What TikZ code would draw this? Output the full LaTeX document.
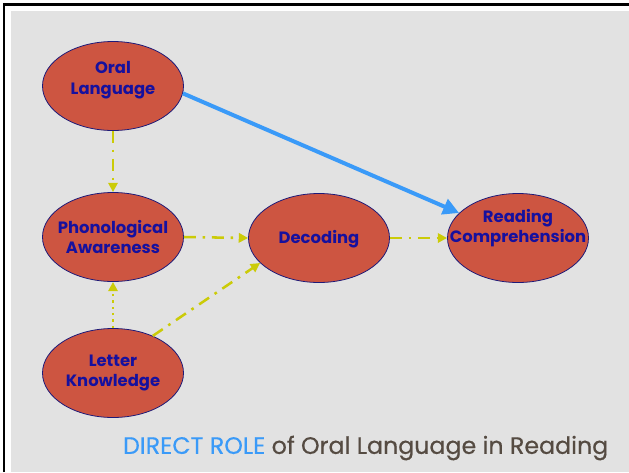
\documentclass[tikz,border=0pt]{standalone}
\usepackage{fontspec}
\setmainfont{Poppins}
\newfontfamily\capfont{Poppins}[FakeBold=0.5]
\usetikzlibrary{shapes.geometric,arrows.meta}
\definecolor{panelgray}{HTML}{E2E2E2}
\definecolor{bubble}{HTML}{CD5541}
\definecolor{rim}{HTML}{1E1A78}
\definecolor{ink}{HTML}{16109E}
\definecolor{olive}{HTML}{CBCB08}
\definecolor{skyblue}{HTML}{3A9AF8}
\definecolor{caption}{HTML}{554B42}
\tikzset{
  concept/.style={ellipse, draw=rim, line width=0.6pt, fill=bubble,
    minimum width=105.75pt, minimum height=66.75pt, inner sep=0pt},
  conceptlabel/.style={text=ink, font=\bfseries\fontsize{12.3}{15.5}\selectfont,
    align=center, inner sep=0pt},
  dashdot/.style={draw=olive, line width=1.9pt,
    dash pattern=on 9pt off 5pt on 2pt off 5pt,
    -{Triangle[length=7pt,width=7pt]}},
  dotline/.style={draw=olive, line width=1.8pt,
    dash pattern=on 1.8pt off 3pt,
    -{Triangle[length=7pt,width=7pt]}},
  direct/.style={draw=skyblue, line width=3pt,
    -{Triangle[length=12pt,width=12pt]}}
}
\begin{document}
\begin{tikzpicture}[x={(0.75pt,0)}, y={(0,-0.75pt)}]
  % page, frame and panel
  \fill[white] (0,0) rectangle (629,472);
  \useasboundingbox (0,0) rectangle (629,472);
  \draw[black, line width=2pt] (4,472) -- (4,4.5) -- (629,4.5);
  \fill[panelgray] (11,11) rectangle (629,472);

  % concepts (fixed-size ellipses, labels set on top)
  \node[concept] (O) at (113,86) {};
  \node[concept] (P) at (113,237) {};
  \node[concept] (D) at (319,238) {};
  \node[concept] (R) at (518,238) {};
  \node[concept] (L) at (113,373) {};
  \node[conceptlabel] (Ot) at (113,80) {Oral\\Language};
  \node[conceptlabel] (Pt) at (113,237) {Phonological\\Awareness};
  \node[conceptlabel] (Dt) at (319,239) {Decoding};
  \node[conceptlabel] (Rt) at (518,228) {Reading\\Comprehension};
  \node[conceptlabel] (Lt) at (113,373) {Letter\\Knowledge};

  % links
  \draw[direct] (O.354) -- (R.157);
  \draw[dashdot] (O.south) -- (P.north);
  \draw[dashdot] (P.east) -- (D.west);
  \draw[dashdot] (D.east) -- (R.west);
  \draw[dotline] (L.north) -- (P.south);
  \draw[dashdot] (L.43) -- (D.203);

  % caption
  \node[anchor=east, font=\capfont\fontsize{17.8}{20}\selectfont] (cap) at (613,448)
    {\textcolor{skyblue}{DIRECT ROLE} \textcolor{caption}{of Oral Language in Reading}};
\end{tikzpicture}
\end{document}
